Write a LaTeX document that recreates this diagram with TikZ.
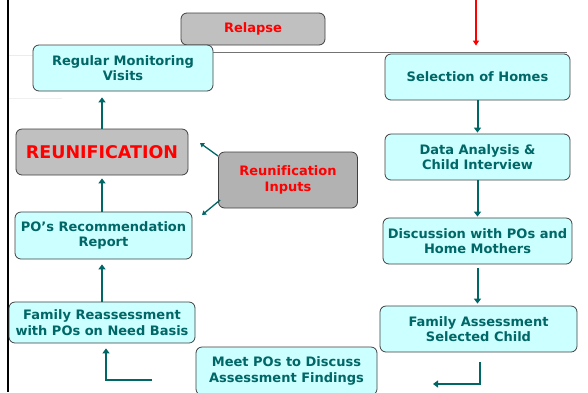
\documentclass[tikz,border=0pt]{standalone}
\usepackage{fontspec}
\setmainfont{DejaVu Sans}[Ligatures=NoCommon]
\usetikzlibrary{arrows.meta}
\definecolor{teal1}{RGB}{0,102,102}
\definecolor{cyanbox}{RGB}{204,255,255}
\definecolor{graybox}{RGB}{192,192,192}
\definecolor{graybox2}{RGB}{178,178,178}
\definecolor{redtxt}{RGB}{255,0,0}
\tikzset{
  box/.style={draw=black!75, line width=0.8pt, rounded corners=6pt, align=center,
    font=\fontsize{13}{15.5}\selectfont\bfseries, inner sep=0pt},
  cbox/.style={box, fill=cyanbox, text=teal1},
  gbox/.style={box, fill=graybox, text=redtxt},
  arr/.style={draw=teal1, line width=2pt, -{Triangle[length=5pt,width=7pt]}},
  thinarr/.style={draw=teal1, line width=1.3pt, -{Triangle[length=4pt,width=5pt]}},
  redarr/.style={draw=redtxt, line width=1.5pt, -{Triangle[length=5pt,width=6pt]}},
}
\begin{document}
\begin{tikzpicture}[x=1pt,y=-1pt]
\useasboundingbox (0,0) rectangle (588,392);
\fill[white] (0,0) rectangle (588,392);
% decorative lines
\draw[black, line width=2.5pt] (8,0) -- (8,392);
\draw[gray!15, line width=0.8pt] (9,55) -- (33,55);
\draw[gray!12, line width=0.8pt] (9,98) -- (62,98);
\draw[black!55, line width=1pt] (213,52) -- (567,52);
% nodes
\node[gbox, minimum width=144, minimum height=32] (relapse) at (253,29) {Relapse};
\node[cbox, minimum width=180, minimum height=46] (monitor) at (123,68) {Regular Monitoring\\Visits};
\node[cbox, minimum width=185, minimum height=46] (select) at (477.5,77) {Selection of Homes};
\node[cbox, minimum width=185, minimum height=46] (data) at (477.5,157) {Data Analysis \&\\Child Interview};
\node[cbox, minimum width=189, minimum height=46] (disc) at (477.5,241) {Discussion with POs and\\Home Mothers};
\node[cbox, minimum width=197, minimum height=46] (famass) at (478.5,329) {Family Assessment\\Selected Child};
\node[cbox, minimum width=181, minimum height=48] (meet) at (286.5,371) {Meet POs to Discuss\\Assessment Findings};
\node[gbox, minimum width=172, minimum height=46, font=\fontsize{17.5}{20}\selectfont\bfseries] (reun) at (102,152) {REUNIFICATION};
\node[gbox, fill=graybox2, minimum width=139, minimum height=56] (inputs) at (288,180) {Reunification\\Inputs};
\node[cbox, minimum width=177, minimum height=47] (porec) at (103.5,235.5) {PO's Recommendation\\Report};
\node[cbox, minimum width=186, minimum height=41] (famre) at (102,322.5) {Family Reassessment\\with POs on Need Basis};
% coordinates
\coordinate (redtop) at (476,0);
\coordinate (lstart) at (152,380);
\coordinate (rend) at (433,384);
\coordinate (in1) at (200,143);
\coordinate (in2) at (202,215);
% connectors
\draw[redarr, shorten >=8pt] (redtop) -- (redtop |- select.north);
\draw[arr, shorten >=1pt] (select.south) -- (data.north);
\draw[arr, shorten >=1pt] (data.south) -- (disc.north);
\draw[arr, shorten <=4pt, shorten >=2pt] (disc.south) -- (disc.south |- famass.north);
\draw[arr, shorten <=10pt] ([xshift=1.5pt]famass.south) |- (rend);
\draw[arr, shorten >=5pt] (lstart) -| ([xshift=4pt]famre.south);
\draw[arr, shorten >=5pt] (famre.north) -- (famre.north |- porec.south);
\draw[arr, shorten >=3pt] (famre.north |- porec.north) -- (famre.north |- reun.south);
\draw[arr, shorten >=6pt] (reun.north) -- (reun.north |- monitor.south);
\draw[thinarr] ([yshift=24pt]inputs.west) -- (in1);
\draw[thinarr] ([yshift=-20pt,xshift=2pt]inputs.west) -- (in2);
\end{tikzpicture}
\end{document}
